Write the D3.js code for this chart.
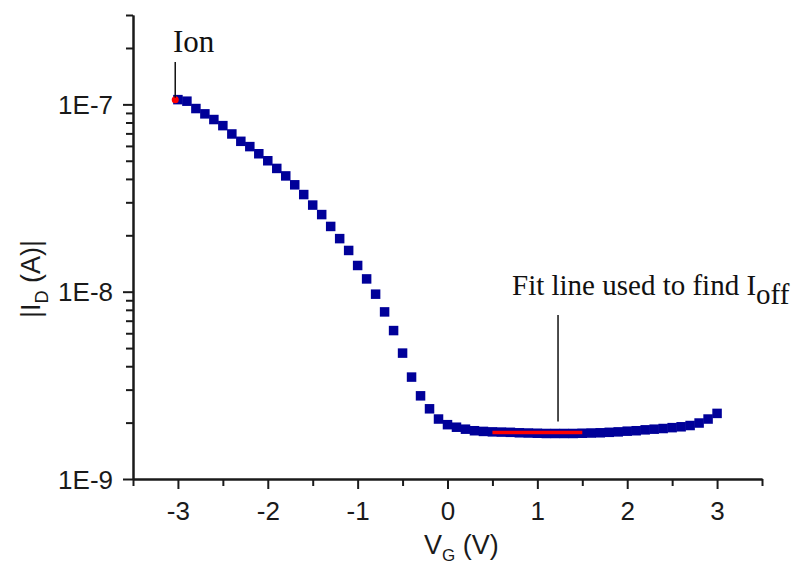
<!DOCTYPE html>
<html>
<head>
<meta charset="utf-8">
<script src="https://cdn.jsdelivr.net/npm/d3@7"></script>
<style>
  html, body { margin: 0; padding: 0; background: #fff; }
  svg { display: block; }
  .tick-label { font-family: "Liberation Sans", Arial, sans-serif; font-size: 26px; fill: #1a1a1a; }
  .axis-title { font-family: "Liberation Sans", Arial, sans-serif; font-size: 27px; fill: #1a1a1a; }
  .note { font-family: "Liberation Serif", "Times New Roman", serif; font-size: 31px; fill: #111; }
  .note-small { font-family: "Liberation Serif", "Times New Roman", serif; font-size: 29px; fill: #111; }
</style>
</head>
<body>
<svg id="chart" width="795" height="565"></svg>
<script>
// Gate voltage sweep (V)
const vg = [
  -3.0, -2.9, -2.8, -2.7, -2.6, -2.5, -2.4, -2.3, -2.2, -2.1,
  -2.0, -1.9, -1.8, -1.7, -1.6, -1.5, -1.4, -1.3, -1.2, -1.1,
  -1.0, -0.9, -0.8, -0.7, -0.6, -0.5, -0.4, -0.3, -0.2, -0.1,
   0.0,  0.1,  0.2,  0.3,  0.4,  0.5,  0.6,  0.7,  0.8,  0.9,
   1.0,  1.1,  1.2,  1.3,  1.4,  1.5,  1.6,  1.7,  1.8,  1.9,
   2.0,  2.1,  2.2,  2.3,  2.4,  2.5,  2.6,  2.7,  2.8,  2.9,
   3.0
];
// |I_D| drain current magnitude (A)
const idAbs = [
  1.06e-7, 1.04e-7, 9.5e-8, 8.9e-8, 8.3e-8, 7.7e-8, 6.95e-8, 6.35e-8, 5.95e-8, 5.45e-8,
  5.0e-8, 4.55e-8, 4.15e-8, 3.72e-8, 3.3e-8, 2.9e-8, 2.58e-8, 2.23e-8, 1.92e-8, 1.66e-8,
  1.38e-8, 1.17e-8, 9.7e-9, 7.8e-9, 6.2e-9, 4.7e-9, 3.5e-9, 2.78e-9, 2.37e-9, 2.09e-9,
  1.95e-9, 1.89e-9, 1.845e-9, 1.81e-9, 1.795e-9, 1.785e-9, 1.78e-9, 1.775e-9, 1.765e-9, 1.76e-9,
  1.755e-9, 1.75e-9, 1.75e-9, 1.75e-9, 1.75e-9, 1.755e-9, 1.76e-9, 1.765e-9, 1.775e-9, 1.785e-9,
  1.8e-9, 1.81e-9, 1.83e-9, 1.845e-9, 1.86e-9, 1.88e-9, 1.9e-9, 1.93e-9, 1.99e-9, 2.09e-9,
  2.24e-9
];
// Linear fit used to extract I_off
const fitV = [0.5, 1.5];
const fitI = [1.77e-9, 1.77e-9];
// On-current point
const ionV = [-3.03];
const ionI = [1.06e-7];

// Axes
const xDomain = [-3.5, 3.5];
const yDomain = [1e-9, 3e-7];
const xMajor = [-3, -2, -1, 0, 1, 2, 3];
const xMinor = [-3.5, -2.5, -1.5, -0.5, 0.5, 1.5, 2.5, 3.5];
const yMajor = [1e-9, 1e-8, 1e-7];
const yMajorLabels = ["1E-9", "1E-8", "1E-7"];
const yMinor = [2e-9, 3e-9, 4e-9, 5e-9, 6e-9, 7e-9, 8e-9, 9e-9,
                2e-8, 3e-8, 4e-8, 5e-8, 6e-8, 7e-8, 8e-8, 9e-8,
                2e-7, 3e-7];

const svg = d3.select("#chart");
const plot = { left: 133, right: 762, top: 15, bottom: 479 };

const x = d3.scaleLinear().domain(xDomain).range([plot.left, plot.right]);
const y = d3.scaleLog().domain(yDomain).range([plot.bottom, plot.top]);

const axisColor = "#1a1a1a";

function styleAxis(g) {
  g.select(".domain").attr("stroke", axisColor).attr("stroke-width", 2);
  g.selectAll(".tick line").attr("stroke", axisColor).attr("stroke-width", 2);
}

// X axis: minor then major ticks
svg.append("g")
  .attr("transform", `translate(0,${plot.bottom})`)
  .call(d3.axisBottom(x).tickValues(xMinor).tickSize(7).tickFormat("").tickSizeOuter(0))
  .call(styleAxis);
const gx = svg.append("g")
  .attr("transform", `translate(0,${plot.bottom})`)
  .call(d3.axisBottom(x).tickValues(xMajor).tickSize(10).tickPadding(8).tickSizeOuter(0)
        .tickFormat(d => d3.format("d")(d).replace("−", "-")))
  .call(styleAxis);
gx.selectAll(".tick text").attr("class", "tick-label").attr("dy", "0.9em");

// Y axis: minor then major ticks
svg.append("g")
  .attr("transform", `translate(${plot.left},0)`)
  .call(d3.axisLeft(y).tickValues(yMinor).tickSize(7).tickFormat("").tickSizeOuter(0))
  .call(styleAxis);
const gy = svg.append("g")
  .attr("transform", `translate(${plot.left},0)`)
  .call(d3.axisLeft(y).tickValues(yMajor).tickSize(10).tickPadding(10).tickSizeOuter(0)
        .tickFormat((d, i) => yMajorLabels[i]))
  .call(styleAxis);
gy.selectAll(".tick text").attr("class", "tick-label").attr("dy", "0.35em");

// Axis titles
const xt = svg.append("text").attr("class", "axis-title")
  .attr("x", 424).attr("y", 554);
xt.append("tspan").text("V");
xt.append("tspan").attr("font-size", "17px").attr("dy", 7).text("G");
xt.append("tspan").attr("dy", -7).text(" (V)");

const yt = svg.append("text").attr("class", "axis-title")
  .attr("transform", "translate(40,318) rotate(-90)")
  .attr("x", 0).attr("y", 0);
yt.append("tspan").text("|I");
yt.append("tspan").attr("font-size", "18px").attr("dy", 8).text("D");
yt.append("tspan").attr("dy", -8).text(" (A)|");

// Measured data: filled squares
const pts = vg.map((v, i) => ({ v, i: idAbs[i] }));
const sq = 9.5;
svg.append("g").selectAll("rect")
  .data(pts)
  .join("rect")
  .attr("x", d => x(d.v) - sq / 2)
  .attr("y", d => y(d.i) - sq / 2)
  .attr("width", sq)
  .attr("height", sq)
  .attr("fill", "#000099");

// Fit line
svg.append("path")
  .datum(fitV.map((v, i) => ({ v, i: fitI[i] })))
  .attr("d", d3.line().x(d => x(d.v)).y(d => y(d.i)))
  .attr("stroke", "#ff0000")
  .attr("stroke-width", 3.5)
  .attr("fill", "none");

// Ion marker
svg.append("g").selectAll("circle")
  .data(ionV.map((v, i) => ({ v, i: ionI[i] })))
  .join("circle")
  .attr("cx", d => x(d.v))
  .attr("cy", d => y(d.i))
  .attr("r", 3.5)
  .attr("fill", "#ff0000");

// Annotations
const ionX = x(ionV[0]);
svg.append("line")
  .attr("x1", ionX).attr("x2", ionX)
  .attr("y1", y(ionI[0]) - 2).attr("y2", 62)
  .attr("stroke", "#111").attr("stroke-width", 1.5);
svg.append("text").attr("class", "note")
  .attr("x", 173).attr("y", 52).text("Ion");

const fitMidX = x(1.23);
svg.append("line")
  .attr("x1", fitMidX).attr("x2", fitMidX)
  .attr("y1", y(fitI[0]) - 11).attr("y2", 315)
  .attr("stroke", "#111").attr("stroke-width", 1.5);
const fl = svg.append("text").attr("class", "note-small")
  .attr("x", 512).attr("y", 295);
fl.append("tspan").text("Fit line used to find I");
fl.append("tspan").attr("dy", 9).text("off");
</script>
</body>
</html>
